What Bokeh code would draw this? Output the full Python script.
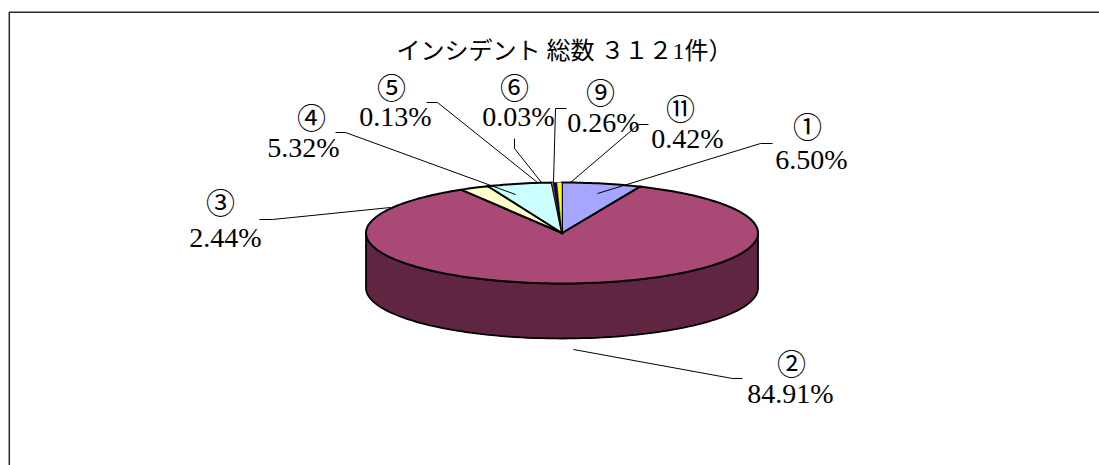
import math
from bokeh.plotting import figure
from bokeh.models import Range1d
from bokeh.core.properties import value
from bokeh.embed import file_html
from bokeh.resources import INLINE

# ---- data ----
title_text = "インシデント 総数 ３１２1件）"
categories = ["①", "②", "③", "④", "⑤", "⑥", "⑨", "⑪"]
shares = [6.50, 84.91, 2.44, 5.32, 0.13, 0.03, 0.26, 0.42]
slice_colors = ["#A6A6FF", "#AA4876", "#FFFFCC", "#CCFFFF", "#FF8080", "#0066CC", "#000080", "#FFFF00"]
side_color = "#5F2541"

# ---- layout (page pixels) ----
W, H = 1099, 465
CX, CY, RX, RY, DEPTH = 561.5, 232.5, 196.0, 50.5, 55.0
cat_pos = [(807, 127), (791, 364), (220, 203), (311, 118), (391, 88), (514, 88), (600, 93), (680, 109)]
val_pos = [(811, 159), (790, 393), (225, 237), (303, 147), (395, 116), (518, 116), (603, 122), (687, 138)]
leaders = [
    [(597, 193), (760, 143), (772, 143)],
    [(573, 349), (732, 378), (742, 378)],
    [(390, 207), (272, 219), (259, 219)],
    [(515, 194), (345, 132), (335, 132)],
    [(537, 182), (437, 102), (426, 102)],
    [(541, 182), (514, 148), (514, 138)],
    [(553, 182), (555, 108), (566, 108)],
    [(570, 182), (638, 124), (648, 124)],
]

FONT = value("Liberation Serif, Noto Sans CJK JP")

p = figure(width=W, height=H, output_backend="svg", toolbar_location=None,
           x_range=Range1d(0, W), y_range=Range1d(H, 0),
           min_border=0, background_fill_color="white", border_fill_color="white")
p.axis.visible = False
p.grid.visible = False
p.outline_line_color = None

# chart-area frame: top and left edges only
p.line([8.8, 8.8, W], [H, 11.8, 11.8], line_color="#2a2a2a", line_width=1.5)


def rim(a):
    return CX + RX * math.sin(a), CY - RY * math.cos(a)


total = sum(shares)
angles = [0.0]
for s in shares:
    angles.append(angles[-1] + s / total * 2 * math.pi)

# side wall of the disc: only the front half of the rim shows
n = 90
front = [math.pi / 2 + math.pi * i / n for i in range(n + 1)]
sx = [rim(a)[0] for a in front] + [rim(a)[0] for a in reversed(front)]
sy = [rim(a)[1] for a in front] + [rim(a)[1] + DEPTH for a in reversed(front)]
p.patch(sx, sy, fill_color=side_color, line_color="black", line_width=1.8)

# top face
order = [1, 0, 2, 3, 4, 5, 6, 7]
for i in order:
    a0, a1 = angles[i], angles[i + 1]
    steps = max(2, int((a1 - a0) / 0.02))
    arc = [a0 + (a1 - a0) * k / steps for k in range(steps + 1)]
    xs = [CX] + [rim(a)[0] for a in arc]
    ys = [CY] + [rim(a)[1] for a in arc]
    lw = 0.5 if shares[i] < 1 else 2.0
    p.patch(xs, ys, fill_color=slice_colors[i], line_color="black", line_width=lw, line_join="miter")

# leader lines
for pts in leaders:
    p.line([q[0] for q in pts], [q[1] for q in pts], line_color="black", line_width=1)

# labels
p.text([q[0] for q in cat_pos], [q[1] for q in cat_pos], text=categories, text_font=FONT,
       text_font_size="29px", text_align="center", text_baseline="middle", text_color="black")
p.text([q[0] for q in val_pos], [q[1] for q in val_pos], text=[f"{v:.2f}%" for v in shares],
       text_font=FONT, text_font_size="28px", text_align="center", text_baseline="middle", text_color="black")
p.text([564], [50], text=[title_text], text_font=FONT, text_font_size="24px",
       text_align="center", text_baseline="middle", text_color="black")

open("out.html", "w").write(file_html(p, INLINE))
